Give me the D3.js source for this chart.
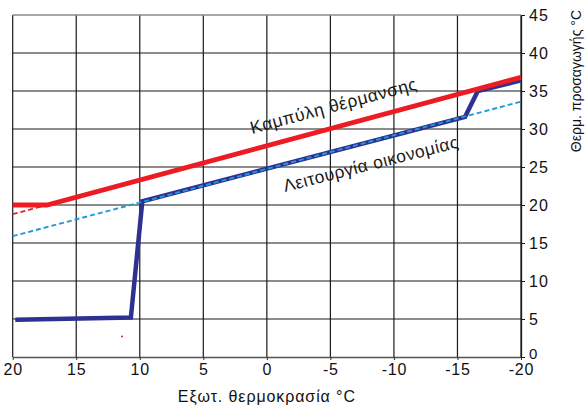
<!DOCTYPE html>
<html>
<head>
<meta charset="utf-8">
<script src="https://cdn.jsdelivr.net/npm/d3@7"></script>
<style>
  html, body { margin: 0; padding: 0; background: #fff; }
  svg { display: block; font-family: "Liberation Sans", Arial, sans-serif; }
</style>
</head>
<body>
<svg id="chart" width="586" height="408"></svg>
<script>
// Outdoor temperature (°C) ticks, left to right, and their labels
const outdoorTicks = [20, 15, 10, 5, 0, -5, -10, -15, -20];
const outdoorLabels = ["20", "15", "10", "5", "0", "-5", "-10", "-15", "-20"];
// Flow temperature (°C) ticks
const flowTicks = [0, 5, 10, 15, 20, 25, 30, 35, 40, 45];

// Heating curve: [outdoor °C, flow °C]
const heatingCurve = [[20, 20], [17.3, 20], [-20, 36.8]];
// Continuation of the heating curve below the 20 °C floor (dashed)
const heatingExtension = [[20, 18.8], [17.3, 20]];
// Economy mode reference line (dashed)
const economyLine = [[20, 15.9], [-20, 33.6]];
// Actual flow temperature in economy operation
const economyFlow = [[19.8, 4.9], [10.7, 5.2], [9.8, 20.5], [-15.6, 31.6], [-16.6, 35.0], [-20, 36.4]];
// Stray marker
const strayPoint = [[11.4, 2.7]];

const curveLabels = ["Καμπύλη θέρμανσης", "Λειτουργία οικονομίας"];
const xTitle = "Εξωτ. θερμοκρασία °C";
const yTitle = "Θερμ. προσαγωγής °C";

const svg = d3.select("#chart");
const plotLeft = 12.7, plotRight = 521, plotTop = 15, plotBottom = 357;

const x = d3.scaleLinear().domain([20, -20]).range([plotLeft, plotRight]);
const y = d3.scaleLinear().domain([0, 45]).range([plotBottom, plotTop]);

// Grid
const grid = svg.append("g").attr("stroke", "#1a1a1a").attr("stroke-width", 1.2);
grid.selectAll("line.v").data(outdoorTicks).join("line")
  .attr("class", "v")
  .attr("x1", d => x(d)).attr("x2", d => x(d))
  .attr("y1", y(45)).attr("y2", y(0));
grid.selectAll("line.h").data(flowTicks.filter(d => d > 0 && d < 45)).join("line")
  .attr("class", "h")
  .attr("x1", x(20)).attr("x2", x(-20))
  .attr("y1", d => y(d)).attr("y2", d => y(d));
svg.append("line")
  .attr("x1", x(20)).attr("x2", x(-20)).attr("y1", y(45)).attr("y2", y(45))
  .attr("stroke", "#8a8a8a").attr("stroke-width", 1.4);

// Bottom axis
const xAxis = svg.append("g")
  .attr("transform", `translate(0,${y(0)})`)
  .call(d3.axisBottom(x).tickValues(outdoorTicks)
    .tickFormat((d, i) => outdoorLabels[i]).tickSize(3).tickPadding(4).tickSizeOuter(0));
xAxis.select(".domain").attr("stroke", "#555").attr("stroke-width", 1.6);
xAxis.selectAll(".tick line").attr("stroke", "#333");
xAxis.selectAll("text").attr("font-size", 16).attr("fill", "#111")
  .attr("letter-spacing", 0.8)
  .attr("font-family", "Liberation Sans, Arial, sans-serif");

// Right axis
const yAxis = svg.append("g")
  .attr("transform", `translate(${x(-20)},0)`)
  .call(d3.axisRight(y).tickValues(flowTicks).tickSize(4).tickPadding(4).tickSizeOuter(0));
yAxis.select(".domain").attr("stroke", "#1a1a1a").attr("stroke-width", 1.3);
yAxis.selectAll(".tick line").attr("stroke", "#1a1a1a");
yAxis.selectAll("text").attr("font-size", 16).attr("fill", "#111")
  .attr("letter-spacing", 1)
  .attr("font-family", "Liberation Sans, Arial, sans-serif");
// the zero label sits a little above its tick, clear of the bottom axis labels
yAxis.selectAll(".tick").filter(d => d === 0).select("text")
  .attr("dy", "0.1em").attr("font-size", 15);

// Axis titles
svg.append("text")
  .attr("x", (x(20) + x(-20)) / 2).attr("y", 402)
  .attr("text-anchor", "middle").attr("font-size", 16).attr("fill", "#111")
  .attr("letter-spacing", 0.9)
  .text(xTitle);
svg.append("text")
  .attr("transform", `translate(581,10) rotate(-90)`)
  .attr("text-anchor", "end").attr("font-size", 14).attr("fill", "#111")
  .text(yTitle);

// Curves
const line = d3.line().x(d => x(d[0])).y(d => y(d[1]));

svg.append("path").datum(heatingExtension).attr("d", line)
  .attr("fill", "none").attr("stroke", "#ed1c24").attr("stroke-width", 1.8)
  .attr("stroke-dasharray", "5,3");
svg.append("path").datum(economyFlow).attr("d", line)
  .attr("fill", "none").attr("stroke", "#2e3192").attr("stroke-width", 4.5)
  .attr("stroke-linejoin", "miter");
svg.append("path").datum(economyLine).attr("d", line)
  .attr("fill", "none").attr("stroke", "#1e9ad8").attr("stroke-width", 1.9)
  .attr("stroke-dasharray", "5,3");
svg.append("path").datum(heatingCurve).attr("d", line)
  .attr("fill", "none").attr("stroke", "#ed1c24").attr("stroke-width", 4.8)
  .attr("stroke-linejoin", "miter");

svg.selectAll("circle.stray").data(strayPoint).join("circle")
  .attr("class", "stray")
  .attr("cx", d => x(d[0])).attr("cy", d => y(d[1])).attr("r", 1)
  .attr("fill", "#ed1c24");

// Curve labels, set along the slope of their lines
function slopeAngle(pts) {
  const a = pts[pts.length - 2], b = pts[pts.length - 1];
  return Math.atan2(y(b[1]) - y(a[1]), x(b[0]) - x(a[0])) * 180 / Math.PI;
}
svg.append("text")
  .attr("transform", `translate(252,134) rotate(${slopeAngle(heatingCurve)})`)
  .attr("font-size", 17.5).attr("letter-spacing", 0.6).attr("fill", "#1a1a1a")
  .text(curveLabels[0]);
svg.append("text")
  .attr("transform", `translate(285,192) rotate(${slopeAngle(economyLine) + 0.5})`)
  .attr("font-size", 17.5).attr("letter-spacing", 0.5).attr("fill", "#1a1a1a")
  .text(curveLabels[1]);
</script>
</body>
</html>
